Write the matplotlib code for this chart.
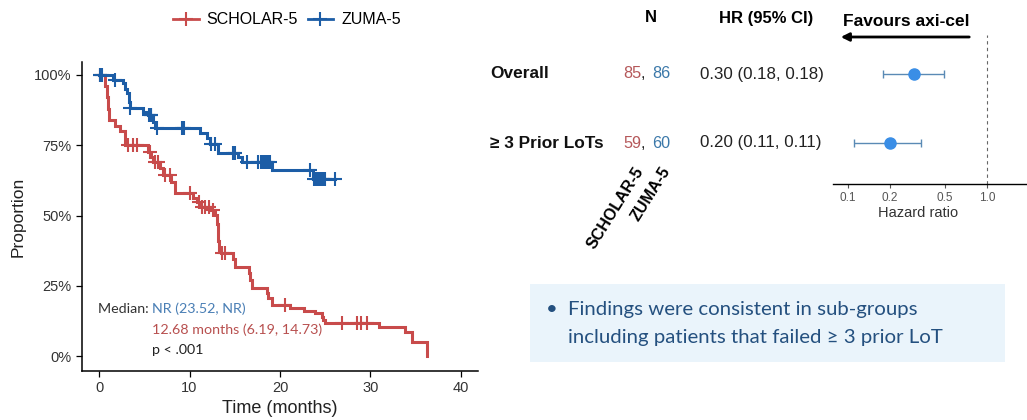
import matplotlib
matplotlib.use("Agg")
import matplotlib.pyplot as plt
import matplotlib.transforms as mtransforms
from matplotlib.lines import Line2D
from matplotlib.patches import Rectangle, FancyArrowPatch
from matplotlib.ticker import PercentFormatter
import numpy as np

# ---------------- Kaplan-Meier data ----------------
scholar_times = [0.7, 0.85, 1.0, 1.1, 1.8, 2.3, 2.9, 5.4, 5.8, 6.0, 6.7, 7.1, 8.0, 8.4,
                 10.4, 10.8, 11.3, 12.3, 12.8, 13.0, 13.1, 13.2, 13.3, 13.5, 14.8, 15.0,
                 16.6, 16.7, 16.9, 18.6, 18.7, 19.1, 21.1, 22.6, 23.9, 24.6, 24.8, 25.0,
                 30.9, 33.8, 34.6, 36.2]
scholar_surv = [0.96, 0.92, 0.88, 0.84, 0.82, 0.80, 0.75, 0.727, 0.709, 0.691, 0.668, 0.644,
                0.62, 0.579, 0.561, 0.549, 0.531, 0.52, 0.502, 0.47, 0.44, 0.41, 0.377, 0.366,
                0.347, 0.318, 0.295, 0.27, 0.241, 0.223, 0.205, 0.181, 0.17, 0.162, 0.152,
                0.14, 0.128, 0.116, 0.104, 0.087, 0.051, 0.0]
scholar_censor = [0.1, 3.2, 3.8, 4.2, 5.6, 6.2, 6.5, 7.3, 7.8, 10.05, 11.0, 11.4, 11.7, 12.2,
                  12.6, 13.6, 13.9, 20.6, 26.8, 28.5, 29.0, 29.6]

zuma_times = [1.6, 2.7, 2.9, 3.1, 3.3, 3.4, 4.9, 5.45, 6.0, 6.2, 11.2, 11.9, 12.3, 13.2,
              15.4, 15.8, 19.1, 23.7]
zuma_surv = [0.982, 0.97, 0.95, 0.934, 0.905, 0.881, 0.869, 0.858, 0.834, 0.81, 0.792,
             0.774, 0.756, 0.721, 0.709, 0.691, 0.662, 0.63]
zuma_censor = [0.1, 0.3, 1.8, 3.4, 5.5, 5.7, 5.8, 6.4, 9.2, 9.4, 12.4, 12.8, 14.8, 15.0,
               16.3, 17.6, 17.9, 18.1, 18.3, 18.5, 18.7, 18.9, 23.3, 23.8, 24.0, 24.2,
               24.4, 24.6, 24.8, 25.0, 26.1]
zuma_end = 26.1

# ---------------- Forest plot data ----------------
subgroups = ["Overall", "\u2265 3 Prior LoTs"]
n_scholar = [85, 59]
n_zuma = [86, 60]
hr = [0.30, 0.20]
hr_lo = [0.18, 0.11]
hr_hi = [0.49, 0.335]
hr_labels = ["0.30 (0.18, 0.18)", "0.20 (0.11, 0.11)"]
hr_ticks = [0.1, 0.2, 0.5, 1.0]
hr_tick_labels = ["0.1", "0.2", "0.5", "1.0"]

RED = "#C84B4B"
BLUE = "#1C5DA6"
RED_TXT = "#B8504F"
BLUE_TXT = "#4A7FB5"
N_RED = "#B5585A"
N_BLUE = "#3B78A9"

W, H = 1027, 420
fig = plt.figure(figsize=(W / 100, H / 100), dpi=100)
plt.rcParams["font.family"] = ["Liberation Sans", "DejaVu Sans"]


def fx(x):
    return x / W


def fy(y):
    return 1 - y / H


def box(l, t, r, b):
    return [l / W, 1 - b / H, (r - l) / W, (b - t) / H]


# ---------------- Kaplan-Meier panel ----------------
ax = fig.add_axes(box(82, 62, 478, 371))


def km_curve(times, surv, end=None):
    xs = [0.0] + list(times)
    ys = [1.0] + list(surv)
    if end is not None and end > xs[-1]:
        xs.append(end)
        ys.append(ys[-1])
    return xs, ys


def censor_y(times, surv, cens):
    levels = np.array([1.0] + list(surv))
    idx = np.searchsorted(np.array(times), np.array(cens), side="right")
    return levels[idx]


for times, surv, cens, col, end in [
    (scholar_times, scholar_surv, scholar_censor, RED, None),
    (zuma_times, zuma_surv, zuma_censor, BLUE, zuma_end),
]:
    xs, ys = km_curve(times, surv, end)
    ax.step(xs, ys, where="post", color=col, lw=2.2, solid_joinstyle="miter")
    ax.plot(cens, censor_y(times, surv, cens), ls="none", marker="+", ms=10,
            mew=1.5, color=col)

ax.set_xlim(-1.88, 41.88)
ax.set_ylim(-0.053, 1.046)
ax.set_xticks([0, 10, 20, 30, 40])
ax.set_yticks([0, 0.25, 0.5, 0.75, 1.0])
ax.yaxis.set_major_formatter(PercentFormatter(1.0, decimals=0))
for s in ["top", "right"]:
    ax.spines[s].set_visible(False)
for s in ["left", "bottom"]:
    ax.spines[s].set_linewidth(1.1)
ax.tick_params(labelsize=10.5, labelcolor="#333333", length=4, width=0.9)
ax.set_xlabel("Time (months)", fontsize=13, color="#222222", labelpad=3)
ax.set_ylabel("Proportion", fontsize=12.5, color="#222222", labelpad=6)

handles = [Line2D([], [], color=RED, marker="+", ms=10, mew=1.5, lw=2.0),
           Line2D([], [], color=BLUE, marker="+", ms=10, mew=1.5, lw=2.0)]
fig.legend(handles, ["SCHOLAR-5", "ZUMA-5"], loc="center", ncol=2,
           bbox_to_anchor=(fx(287), fy(20)), frameon=False, fontsize=11.5,
           handlelength=1.6, handletextpad=0.5, columnspacing=0.6)

med_font = dict(family=["Lato", "DejaVu Sans"], fontsize=10.3, va="center")
t1 = fig.text(fx(98), fy(309), "Median: ", color="#333333", **med_font)
fig.canvas.draw()
r = fig.canvas.get_renderer()
bb = t1.get_window_extent(r)
fig.text(bb.x1 / W, fy(309), "NR (23.52, NR)", color=BLUE_TXT, **med_font)
fig.text(bb.x1 / W, fy(330), "12.68 months (6.19, 14.73)", color=RED_TXT, **med_font)
fig.text(bb.x1 / W, fy(350), "p < .001", color="#222222", **med_font)

# ---------------- Forest panel ----------------
axf = fig.add_axes(box(833, 30, 1027, 184))
axf.set_xscale("log")
axf.set_xlim(10 ** (-1 - 15 / 139), 10 ** ((1027 - 848) / 139 - 1))
row_pos = np.arange(len(subgroups))
axf.set_ylim(1 + (184 - 143) / 69, -(74 - 30) / 69)
for s in ["top", "right", "left"]:
    axf.spines[s].set_visible(False)
axf.spines["bottom"].set_linewidth(1.0)
axf.set_yticks([])
axf.set_xticks(hr_ticks)
axf.set_xticklabels(hr_tick_labels)
axf.minorticks_off()
axf.tick_params(axis="x", labelsize=8.5, labelcolor="#555555", length=3,
                color="#555555", pad=3)
axf.axvline(1.0, ymin=0, ymax=(184 - 35) / 154, ls=(0, (3, 3)), color="#666666",
            lw=0.8)
axf.errorbar(hr, row_pos, xerr=[np.array(hr) - np.array(hr_lo),
                                np.array(hr_hi) - np.array(hr)],
             fmt="o", color="#3A8EE6", ms=8, ecolor="#5A8AB5", elinewidth=1.0,
             capsize=3, capthick=1.0, zorder=3)

fig.text(fx(918), fy(213), "Hazard ratio", ha="center", va="center", fontsize=10.5,
         color="#333333")

# Row labels and statistics, aligned to the forest rows
tr = mtransforms.blended_transform_factory(fig.transFigure, axf.transData)
for i, name in enumerate(subgroups):
    fig.text(fx(490), row_pos[i], name, transform=tr, fontsize=12.4, weight="bold",
             va="center", ha="left", color="#111111")
    fig.text(fx(641), row_pos[i], str(n_scholar[i]), transform=tr, fontsize=11.7,
             va="center", ha="right", color=N_RED)
    fig.text(fx(641), row_pos[i], ",", transform=tr, fontsize=11.7,
             va="center", ha="left", color="#222222")
    fig.text(fx(652), row_pos[i], str(n_zuma[i]), transform=tr, fontsize=11.7,
             va="center", ha="left", color=N_BLUE)
    fig.text(fx(700), row_pos[i], hr_labels[i], transform=tr, fontsize=12.2,
             va="center", ha="left", color="#222222")

fig.text(fx(651), fy(18), "N", ha="center", va="center", fontsize=12, weight="bold")
fig.text(fx(766), fy(18), "HR (95% CI)", ha="center", va="center", fontsize=12,
         weight="bold")
fig.text(fx(906), fy(21), "Favours axi-cel", ha="center", va="center", fontsize=12.5,
         weight="bold")
fig.add_artist(FancyArrowPatch(posA=(fx(972), fy(37)), posB=(fx(838), fy(37)),
                               transform=fig.transFigure, arrowstyle="-|>",
                               mutation_scale=12, lw=2.0, color="black"))

fig.text(fx(640), fy(168), "SCHOLAR-5", rotation=58, rotation_mode="anchor",
         ha="right", va="center", fontsize=11.5, weight="bold")
fig.text(fx(667), fy(168), "ZUMA-5", rotation=58, rotation_mode="anchor",
         ha="right", va="center", fontsize=11.5, weight="bold")

# ---------------- Note box ----------------
fig.add_artist(Rectangle((fx(530), fy(362)), (1005 - 530) / W, (362 - 284) / H,
                         transform=fig.transFigure, fc="#EAF4FB", ec="none", zorder=0))
note_font = dict(family=["Lato", "DejaVu Sans"], fontsize=14.7, color="#24507F",
                 va="center")
fig.text(fx(546), fy(309), "\u2022", **note_font)
fig.text(fx(568), fy(309), "Findings were consistent in sub-groups", **note_font)
fig.text(fx(568), fy(337), "including patients that failed \u2265 3 prior LoT", **note_font)

fig.savefig("out.png", dpi=100)
